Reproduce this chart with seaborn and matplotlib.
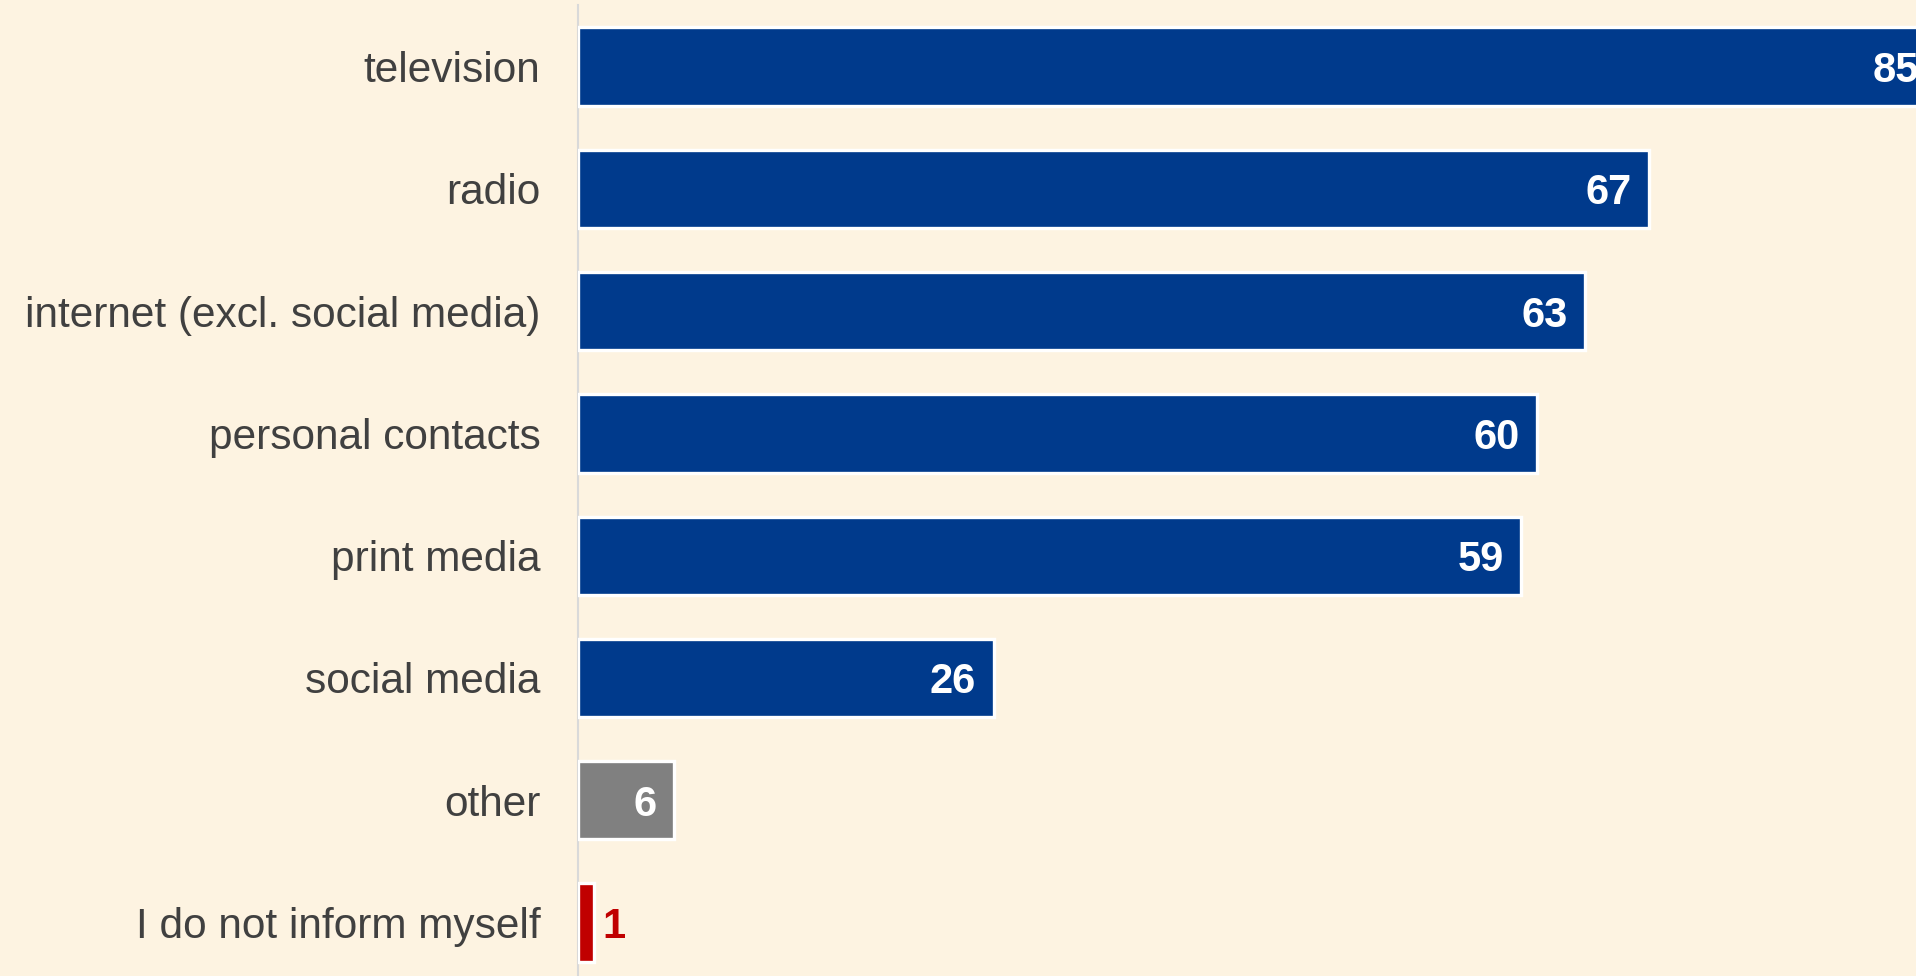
import matplotlib
matplotlib.use("Agg")
import matplotlib.pyplot as plt
import seaborn as sns
import pandas as pd

categories = ["television", "radio", "internet (excl. social media)", "personal contacts",
              "print media", "social media", "other", "I do not inform myself"]
values = [85, 67, 63, 60, 59, 26, 6, 1]
bar_colors = ["#003A8C", "#003A8C", "#003A8C", "#003A8C", "#003A8C", "#003A8C", "#808080", "#C00000"]

BG = "#FDF3E1"

sns.set_theme(style="white")
plt.rcParams["font.family"] = ["Liberation Sans", "DejaVu Sans"]

df = pd.DataFrame({"category": categories, "value": values})

fig = plt.figure(figsize=(19.16, 9.76), dpi=100, facecolor=BG)
ax = fig.add_axes([578 / 1916, 0.0, 1 - 578 / 1916, 1 - 5 / 976])
ax.set_facecolor(BG)

sns.barplot(data=df, y="category", x="value", hue="category", palette=bar_colors,
            order=categories, hue_order=categories, orient="h", legend=False,
            width=0.64, edgecolor="white", linewidth=2.4, saturation=1, ax=ax)

ax.set_xlim(0, 83.7)
ax.set_ylim(7.437, -0.503)

for i, (cat, v) in enumerate(zip(categories, values)):
    if v >= 5:
        ax.text(v - 1.1, i, str(v), ha="right", va="center_baseline", color="white",
                fontsize=30, fontweight="bold", clip_on=False)
    else:
        ax.text(v + 0.55, i, str(v), ha="left", va="center_baseline", color=bar_colors[i],
                fontsize=30, fontweight="bold", clip_on=False)

ax.set_xlabel("")
ax.set_ylabel("")
ax.set_xticks([])
ax.tick_params(axis="y", length=0, pad=27, labelsize=30.5, labelcolor="#404040")
for s in ["top", "right", "bottom"]:
    ax.spines[s].set_visible(False)
ax.spines["left"].set_color("#D9D9D9")
ax.spines["left"].set_linewidth(1.5)
ax.spines["left"].set_zorder(0.5)

fig.savefig("out.png", dpi=100, facecolor=BG)
